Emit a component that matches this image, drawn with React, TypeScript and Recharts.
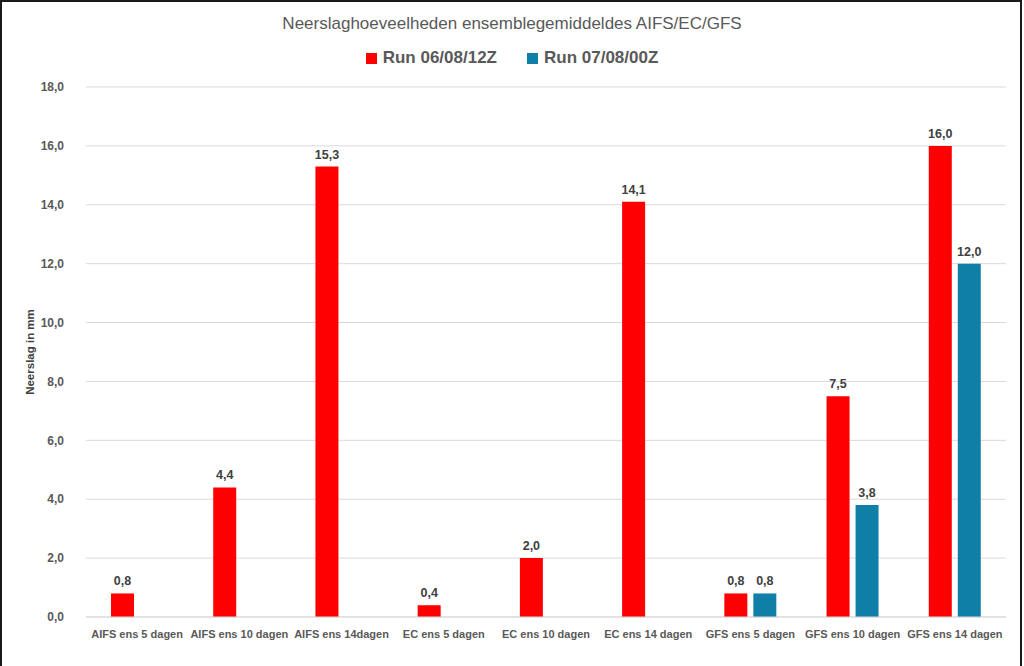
import React from 'react';
import { BarChart, Bar, XAxis, YAxis, CartesianGrid, Legend, LabelList, Label } from 'recharts';

const categories = [
  'AIFS ens 5 dagen',
  'AIFS ens 10 dagen',
  'AIFS ens 14dagen',
  'EC ens 5 dagen',
  'EC ens 10 dagen',
  'EC ens 14 dagen',
  'GFS ens 5 dagen',
  'GFS ens 10 dagen',
  'GFS ens 14 dagen',
];
const run0608 = [0.8, 4.4, 15.3, 0.4, 2.0, 14.1, 0.8, 7.5, 16.0];
const run0708 = [null, null, null, null, null, null, 0.8, 3.8, 12.0];
const yTicks = [0, 2, 4, 6, 8, 10, 12, 14, 16, 18];

const RED = '#FF0000';
const BLUE = '#0F7FA8';
const FONT = '"Liberation Sans", Arial, sans-serif';

const data = categories.map((name, i) => ({
  name,
  a: run0608[i],
  b: run0708[i],
}));

const fmt = (v: any) => (v === null || v === undefined ? '' : Number(v).toFixed(1).replace('.', ','));

const legendItems = [
  { label: 'Run 06/08/12Z', color: RED },
  { label: 'Run 07/08/00Z', color: BLUE },
];

const renderLegend = () => (
  <div style={{ display: 'flex', justifyContent: 'center', gap: 30, fontFamily: FONT }}>
    {legendItems.map((it) => (
      <div key={it.label} style={{ display: 'flex', alignItems: 'center' }}>
        <span style={{ display: 'inline-block', width: 11, height: 11, background: it.color, marginRight: 6 }} />
        <span style={{ fontSize: 17, fontWeight: 'bold', color: '#595959' }}>{it.label}</span>
      </div>
    ))}
  </div>
);

export default function App() {
  return (
    <div style={{ position: 'fixed', left: 0, top: 0, width: 1024, height: 666, background: '#fff', overflow: 'hidden' }}>
      <div
        style={{
          position: 'absolute',
          left: 0,
          top: 0,
          width: 1022,
          height: 680,
          border: '2.5px solid #1a1a1a',
          boxSizing: 'border-box',
        }}
      />
      <div
        style={{
          position: 'absolute',
          top: 14,
          left: 0,
          width: 1024,
          textAlign: 'center',
          fontFamily: FONT,
          fontSize: 17,
          color: '#595959',
        }}
      >
        Neerslaghoeveelheden ensemblegemiddeldes AIFS/EC/GFS
      </div>
      <BarChart
        width={1024}
        height={666}
        data={data}
        margin={{ top: 63, right: 18, bottom: 19, left: 0 }}
        barSize={23}
        barGap={6}
      >
        <CartesianGrid vertical={false} stroke="#d9d9d9" />
        <XAxis
          dataKey="name"
          height={30}
          axisLine={{ stroke: '#d9d9d9' }}
          tickLine={false}
          tickMargin={7}
          interval={0}
          tick={{ fontSize: 11, fontWeight: 'bold', fill: '#595959', fontFamily: FONT }}
        />
        <YAxis
          width={86}
          domain={[0, 18]}
          ticks={yTicks}
          axisLine={false}
          tickLine={false}
          tickMargin={16}
          tickFormatter={fmt}
          tick={{ fontSize: 12, fontWeight: 'bold', fill: '#595959', fontFamily: FONT }}
        >
          <Label
            value="Neerslag in mm"
            angle={-90}
            position="insideLeft"
            offset={30}
            style={{ fontSize: 11.5, fontWeight: 'bold', fill: '#404040', fontFamily: FONT, textAnchor: 'middle' }}
          />
        </YAxis>
        <Legend
          verticalAlign="top"
          content={renderLegend}
          wrapperStyle={{ top: 48, height: 24, left: 0, width: 1024 }}
        />
        <Bar dataKey="a" fill={RED} isAnimationActive={false}>
          <LabelList
            dataKey="a"
            position="top"
            offset={8}
            formatter={fmt}
            style={{ fontSize: 12.5, fontWeight: 'bold', fill: '#404040', fontFamily: FONT }}
          />
        </Bar>
        <Bar dataKey="b" fill={BLUE} isAnimationActive={false}>
          <LabelList
            dataKey="b"
            position="top"
            offset={8}
            formatter={fmt}
            style={{ fontSize: 12.5, fontWeight: 'bold', fill: '#404040', fontFamily: FONT }}
          />
        </Bar>
      </BarChart>
    </div>
  );
}
